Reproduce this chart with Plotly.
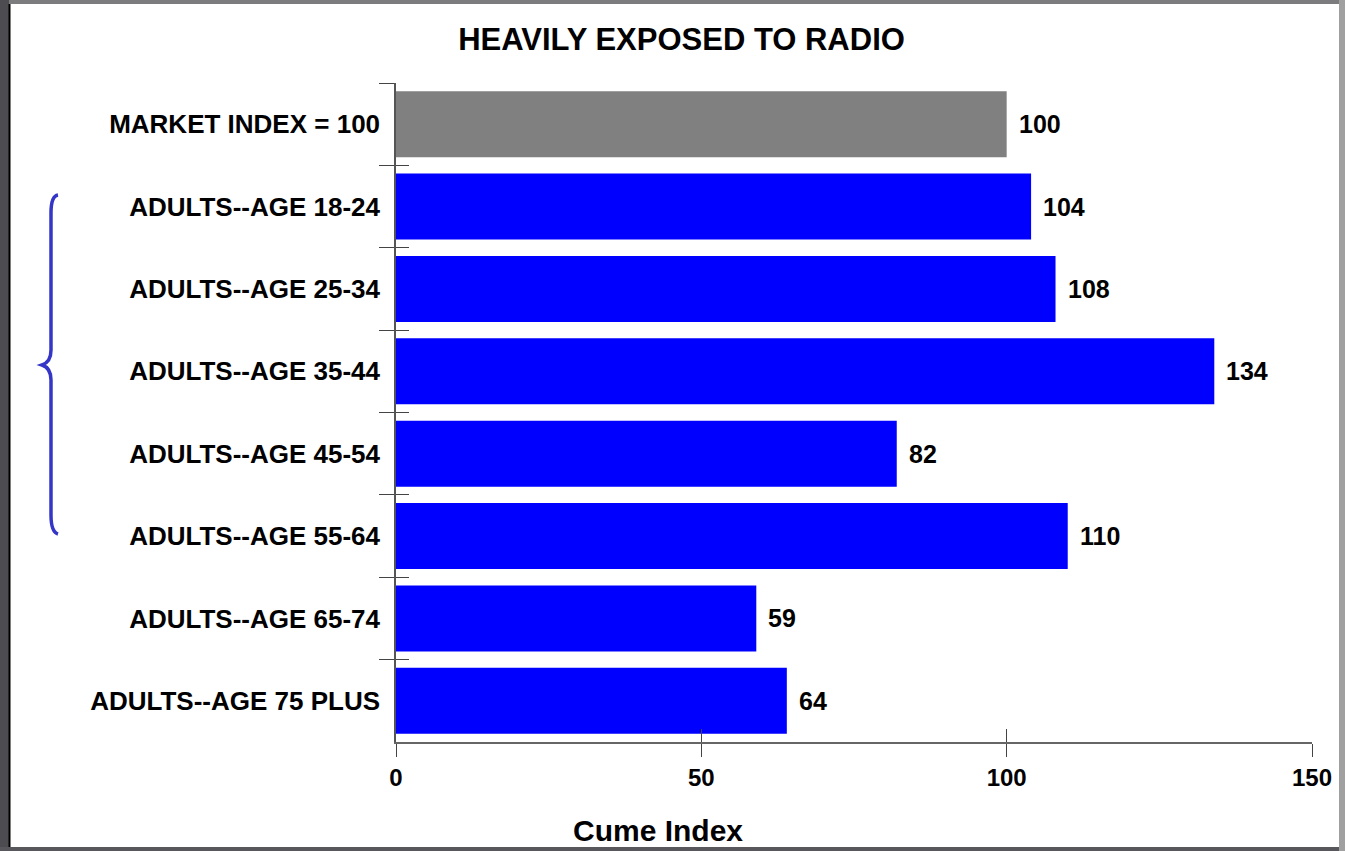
import plotly.graph_objects as go

# ---- data ----
categories = [
    "MARKET INDEX = 100",
    "ADULTS--AGE 18-24",
    "ADULTS--AGE 25-34",
    "ADULTS--AGE 35-44",
    "ADULTS--AGE 45-54",
    "ADULTS--AGE 55-64",
    "ADULTS--AGE 65-74",
    "ADULTS--AGE 75 PLUS",
]
values = [100, 104, 108, 134, 82, 110, 59, 64]
bar_colors = ["#808080"] + ["#0000FF"] * 7
x_ticks = [0, 50, 100, 150]
title_text = "HEAVILY EXPOSED TO RADIO"
x_title = "Cume Index"

# ---- geometry (pixels) ----
W, H = 1345, 851
L, R, T, B = 396, 33, 83, 109
PW, PH = W - L - R, H - T - B

def px(x):
    return (x - L) / PW

def py(y):
    return (H - B - y) / PH

FONT = "Liberation Sans, Arial, sans-serif"

fig = go.Figure()
fig.add_trace(go.Bar(
    y=categories, x=values, orientation="h",
    marker=dict(color=bar_colors, line=dict(width=0)),
    hoverinfo="x+y", showlegend=False,
))
# invisible overlay trace that carries the inside tick marks
fig.add_trace(go.Bar(
    y=categories, x=values, orientation="h",
    marker=dict(color="rgba(0,0,0,0)", line=dict(width=0)),
    xaxis="x2", yaxis="y2", hoverinfo="skip", showlegend=False,
))

shapes = []
# background strips and white card
shapes.append(dict(type="rect", xref="paper", yref="paper", layer="below",
                   x0=px(0), x1=px(1339), y0=py(0), y1=py(4),
                   fillcolor="#7c7c7e", line=dict(width=0)))
shapes.append(dict(type="rect", xref="paper", yref="paper", layer="below",
                   x0=px(1339), x1=px(1345), y0=py(0), y1=py(851),
                   fillcolor="#a0a0a0", line=dict(width=0)))
shapes.append(dict(type="rect", xref="paper", yref="paper", layer="below",
                   x0=px(0), x1=px(9), y0=py(0), y1=py(851),
                   fillcolor="#4d4d51", line=dict(width=0)))
shapes.append(dict(type="rect", xref="paper", yref="paper", layer="below",
                   x0=px(0), x1=px(1339), y0=py(847), y1=py(851),
                   fillcolor="#58585c", line=dict(width=0)))
shapes.append(dict(type="rect", xref="paper", yref="paper", layer="below",
                   x0=px(10), x1=px(1339), y0=py(4), y1=py(847),
                   fillcolor="white", line=dict(width=0)))
shapes.append(dict(type="line", xref="paper", yref="paper", layer="below",
                   x0=px(9.5), x1=px(9.5), y0=py(4), y1=py(847),
                   line=dict(color="black", width=2)))

# curly brace
def P(x, y):
    return f"{px(x):.5f},{py(y):.5f}"

brace = ("M " + P(58, 195) + " Q " + P(51, 196) + " " + P(51, 213) +
         " L " + P(51, 350) + " Q " + P(51, 362) + " " + P(42, 365) +
         " Q " + P(51, 368) + " " + P(51, 380) +
         " L " + P(51, 515) + " Q " + P(51, 532) + " " + P(58, 534))
shapes.append(dict(type="path", xref="paper", yref="paper", path=brace,
                   line=dict(color="#3535c8", width=3.5)))

annotations = []
for c, v in zip(categories, values):
    annotations.append(dict(x=v, y=c, xref="x", yref="y", text="<b>" + str(v) + "</b>",
                            showarrow=False, xanchor="left", yanchor="middle",
                            xshift=10, font=dict(size=25, color="black", family=FONT)))
annotations.append(dict(x=px(657.5), y=py(830), xref="paper", yref="paper",
                        text="<b>" + x_title + "</b>", showarrow=False,
                        xanchor="center", yanchor="middle",
                        font=dict(size=30, color="black", family=FONT)))

fig.update_layout(
    width=W, height=H,
    margin=dict(l=L, r=R, t=T, b=B, pad=0),
    paper_bgcolor="#a0a0a0",
    plot_bgcolor="rgba(0,0,0,0)",
    font=dict(family=FONT, color="black"),
    bargap=0.2,
    title=dict(text="<b>" + title_text + "</b>", x=px(681.5), xref="paper",
               xanchor="center", y=1 - 39 / H, yref="container", yanchor="middle",
               font=dict(size=31, color="black", family=FONT)),
    xaxis=dict(range=[0, 150], tickvals=x_ticks, ticks="outside", ticklen=13,
               tickcolor="#444444", tickwidth=1, showgrid=False, zeroline=False,
               showline=True, linecolor="#666666", linewidth=1.5,
               tickfont=dict(size=24, color="black", family=FONT, weight="bold"),
               fixedrange=True),
    yaxis=dict(type="category", categoryorder="array", categoryarray=categories,
               range=[7.5, -0.5], tickson="boundaries", ticks="outside", ticklen=15,
               ticklabelstandoff=9,
               tickcolor="#444444", tickwidth=1, showgrid=False, zeroline=False,
               showline=True, linecolor="#555555", linewidth=1.5,
               tickfont=dict(size=26, color="black", family=FONT, weight="bold"),
               fixedrange=True),
    xaxis2=dict(overlaying="x", anchor="y2", side="bottom", range=[0, 150],
                tickvals=x_ticks, ticks="inside", ticklen=13, tickcolor="#444444",
                tickwidth=1, showticklabels=False, showgrid=False, zeroline=False,
                showline=False, fixedrange=True),
    yaxis2=dict(overlaying="y", anchor="x2", side="left", type="category",
                categoryorder="array", categoryarray=categories, range=[7.5, -0.5],
                tickson="boundaries", ticks="inside", ticklen=13, tickcolor="#444444",
                tickwidth=1, showticklabels=False, showgrid=False, zeroline=False,
                showline=False, fixedrange=True),
    shapes=shapes,
    annotations=annotations,
)

fig.write_html("out.html")
